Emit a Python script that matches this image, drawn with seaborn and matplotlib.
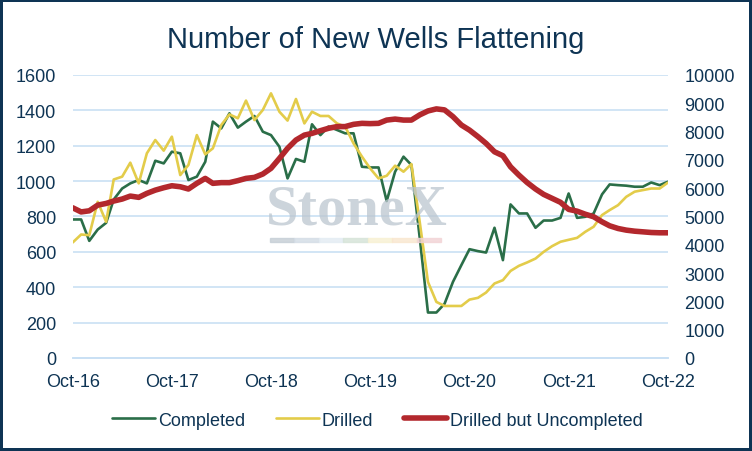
import numpy as np
import pandas as pd
import matplotlib
matplotlib.use('Agg')
import matplotlib.pyplot as plt
import matplotlib.dates as mdates
import seaborn as sns

# =========================================================
# DATOS (mensuales, Oct-16 a Oct-22)
# =========================================================

meses = pd.date_range('2016-10-01', periods=73, freq='MS')

completados = [
    783, 783, 662, 726, 764, 896, 958, 987, 1006, 987, 1115, 1100, 1166,
    1157, 1006, 1025, 1109, 1336, 1298, 1383, 1302, 1336, 1368, 1279, 1260,
    1194, 1015, 1125, 1109, 1321, 1260, 1308, 1289, 1270, 1270, 1081, 1077,
    1077, 887, 1053, 1138, 1091, 675, 257, 257, 306, 430, 525, 615,
    604, 596, 736, 553, 868, 817, 817, 736, 777, 777, 792, 930,
    792, 798, 817, 925, 981, 977, 974, 968, 968, 992, 977, 996,
]

perforados = [
    653, 698, 694, 883, 770, 1009, 1025, 1104, 987, 1157, 1232, 1172, 1251,
    1034, 1091, 1260, 1151, 1185, 1317, 1377, 1355, 1455, 1345, 1402, 1496,
    1392, 1342, 1464, 1326, 1392, 1368, 1368, 1326, 1308, 1213, 1138, 1072,
    1015, 1030, 1087, 1053, 1096, 765, 430, 317, 294, 294, 294, 330,
    340, 370, 421, 440, 492, 521, 540, 562, 600, 632, 657, 668,
    679, 713, 742, 808, 836, 864, 911, 940, 949, 958, 958, 991,
]

duc = [
    5306, 5160, 5200, 5400, 5460, 5545, 5615, 5720, 5675, 5815, 5930, 6015, 6085,
    6050, 5970, 6170, 6345, 6170, 6195, 6195, 6265, 6345, 6380, 6500, 6700,
    7050, 7405, 7700, 7875, 7935, 8030, 8115, 8175, 8175, 8255, 8290, 8280,
    8290, 8405, 8440, 8405, 8405, 8590, 8727, 8800, 8765, 8527, 8230, 8050,
    7820, 7580, 7285, 7145, 6755, 6460, 6200, 5970, 5780, 5640, 5500, 5250,
    5187, 5080, 4990, 4810, 4670, 4575, 4517, 4480, 4457, 4433, 4423, 4423,
]

df = pd.DataFrame({
    'fecha': meses,
    'Completed': completados,
    'Drilled': perforados,
    'Drilled but Uncompleted': duc,
})

# =========================================================
# ESTILO
# =========================================================

sns.set_style('white')
plt.rcParams['font.family'] = ['Liberation Sans', 'DejaVu Sans']

azul = '#0E3454'
verde = '#2A6E48'
amarillo = '#E3CC4A'
rojo = '#B3282D'
rejilla = '#C9E0F4'

fig = plt.figure(figsize=(7.52, 4.52), dpi=100,
                 edgecolor=azul, linewidth=3)
ax = fig.add_axes([0.0967, 0.2058, 0.7913, 0.6262])
ax2 = ax.twinx()

sns.lineplot(data=df, x='fecha', y='Completed', ax=ax,
             color=verde, linewidth=1.9, label='Completed', legend=False)
sns.lineplot(data=df, x='fecha', y='Drilled', ax=ax,
             color=amarillo, linewidth=1.9, label='Drilled', legend=False)
sns.lineplot(data=df, x='fecha', y='Drilled but Uncompleted', ax=ax2,
             color=rojo, linewidth=4, label='Drilled but Uncompleted',
             legend=False)

# Ejes
ax.set_ylim(0, 1600)
ax2.set_ylim(0, 10000)
ax.set_yticks(range(0, 1601, 200))
ax2.set_yticks(range(0, 10001, 1000))
ax.set_xlim(meses[0], meses[-1])

ax.xaxis.set_major_locator(mdates.MonthLocator(bymonth=10))
ax.xaxis.set_major_formatter(mdates.DateFormatter('%b-%y'))

ax.set_xlabel('')
ax.set_ylabel('')
ax2.set_ylabel('')

ax.grid(axis='y', color=rejilla, linewidth=1.2)
ax.set_axisbelow(True)

for a in (ax, ax2):
    for lado in ['top', 'left', 'right']:
        a.spines[lado].set_visible(False)
    a.spines['bottom'].set_color(rejilla)
    a.spines['bottom'].set_linewidth(1.2)

ax.tick_params(axis='x', colors=rejilla, labelcolor=azul, length=5,
               width=1.2, labelsize=13, pad=6)
ax.tick_params(axis='y', length=0, labelcolor=azul, labelsize=13, pad=12)
ax2.tick_params(axis='y', length=0, labelcolor=azul, labelsize=13, pad=12)

# Título
fig.text(0.5, 0.912, 'Number of New Wells Flattening', ha='center',
         va='center', fontsize=21, color=azul)

# Marca de agua
fig.text(0.475, 0.535, 'StoneX', ha='center', va='center', fontsize=42,
         family='Liberation Serif', weight='bold', color='#BCC6CF',
         alpha=0.75, zorder=0)
colores_barra = ['#C5CDD5', '#D3DCE5', '#E3ECF3', '#D5E3D8',
                 '#F8F1D2', '#F9E6CF', '#F2D3D5']
for i, c in enumerate(colores_barra):
    fig.patches.append(plt.Rectangle((0.359 + i * 0.0325, 0.462), 0.0325,
                                     0.009, transform=fig.transFigure,
                                     color=c, alpha=0.8, zorder=0))

# Leyenda
lineas = ax.get_lines()[:2] + ax2.get_lines()[:1]
fig.legend(lineas, ['Completed', 'Drilled', 'Drilled but Uncompleted'],
           loc='center', bbox_to_anchor=(0.502, 0.068), ncol=3,
           frameon=False, fontsize=13, labelcolor=azul,
           handlelength=2.4, handletextpad=0.15, columnspacing=1.7)

fig.savefig('out.png', dpi=100, edgecolor=azul)
